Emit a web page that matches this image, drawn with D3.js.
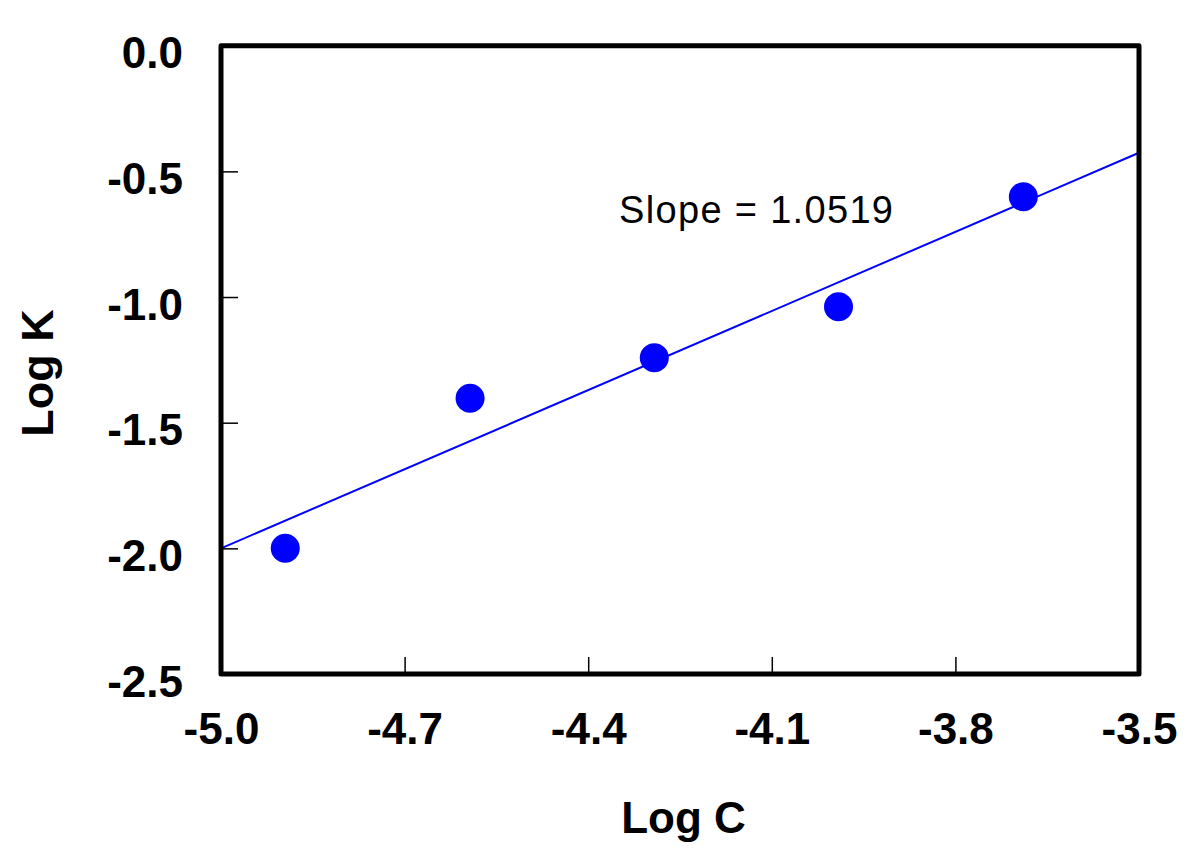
<!DOCTYPE html>
<html>
<head>
<meta charset="utf-8">
<script src="https://cdn.jsdelivr.net/npm/d3@7"></script>
<style>
  html, body { margin: 0; padding: 0; background: #fff; }
  svg { display: block; }
  text { font-family: "Liberation Sans", Arial, sans-serif; }
</style>
</head>
<body>
<svg id="chart" width="1200" height="862"></svg>
<script>
// ---- data ----
const logC = [-4.895, -4.593, -4.292, -3.991, -3.689];
const logK = [-2.0, -1.403, -1.242, -1.039, -0.601];
const fitX = [-5.0, -3.5];
const fitY = [-2.0, -0.426];
const xTicks = [-5.0, -4.7, -4.4, -4.1, -3.8, -3.5];
const yTicks = [0.0, -0.5, -1.0, -1.5, -2.0, -2.5];
const xLabel = "Log C";
const yLabel = "Log K";
const annotation = "Slope = 1.0519";

// ---- layout ----
const svg = d3.select("#chart");
const L = 221, R = 1139, T = 45.7, B = 674;
const x = d3.scaleLinear().domain([-5.0, -3.5]).range([L, R]);
const y = d3.scaleLinear().domain([-2.5, 0.0]).range([B, T]);
const fmt = d => d.toFixed(1);

// axes
const xAxis = d3.axisBottom(x).tickValues(xTicks).tickSize(-17).tickPadding(39).tickFormat(fmt);
const gx = svg.append("g").attr("transform", `translate(0,${B})`).call(xAxis);
gx.select(".domain").remove();
gx.selectAll("line").attr("stroke", "#000").attr("stroke-width", 1.5);
gx.selectAll("text").attr("font-size", 44).attr("font-weight", "bold").attr("fill", "#000")
  .attr("font-family", '"Liberation Sans", Arial, sans-serif');

const yAxis = d3.axisLeft(y).tickValues(yTicks).tickSize(-17).tickPadding(38).tickFormat(fmt);
const gy = svg.append("g").attr("transform", `translate(${L},0)`).call(yAxis);
gy.select(".domain").remove();
gy.selectAll("line").attr("stroke", "#000").attr("stroke-width", 1.5);
gy.selectAll("text").attr("font-size", 44).attr("font-weight", "bold").attr("fill", "#000")
  .attr("dy", "0.5em").attr("font-family", '"Liberation Sans", Arial, sans-serif');

// fit line
const line = d3.line().x(d => x(d[0])).y(d => y(d[1]));
svg.append("path")
  .datum(d3.zip(fitX, fitY))
  .attr("d", line)
  .attr("fill", "none")
  .attr("stroke", "#0000ff")
  .attr("stroke-width", 2);

// points
svg.append("g").selectAll("circle")
  .data(d3.zip(logC, logK))
  .join("circle")
  .attr("cx", d => x(d[0]))
  .attr("cy", d => y(d[1]))
  .attr("r", 14.5)
  .attr("fill", "#0000ff");

// frame
svg.append("rect")
  .attr("x", L).attr("y", T)
  .attr("width", R - L).attr("height", B - T)
  .attr("fill", "none").attr("stroke", "#000").attr("stroke-width", 5)
  .attr("stroke-linejoin", "round");

// annotation
svg.append("text")
  .attr("x", 619).attr("y", 223)
  .attr("font-size", 38)
  .attr("textLength", 274)
  .attr("lengthAdjust", "spacing")
  .attr("fill", "#000")
  .text(annotation);

// axis titles
svg.append("text")
  .attr("x", 683.5).attr("y", 833)
  .attr("text-anchor", "middle")
  .attr("font-size", 44).attr("font-weight", "bold")
  .attr("fill", "#000")
  .text(xLabel);

svg.append("text")
  .attr("transform", "translate(53,373) rotate(-90)")
  .attr("text-anchor", "middle")
  .attr("font-size", 45).attr("font-weight", "bold")
  .attr("fill", "#000")
  .text(yLabel);
</script>
</body>
</html>
